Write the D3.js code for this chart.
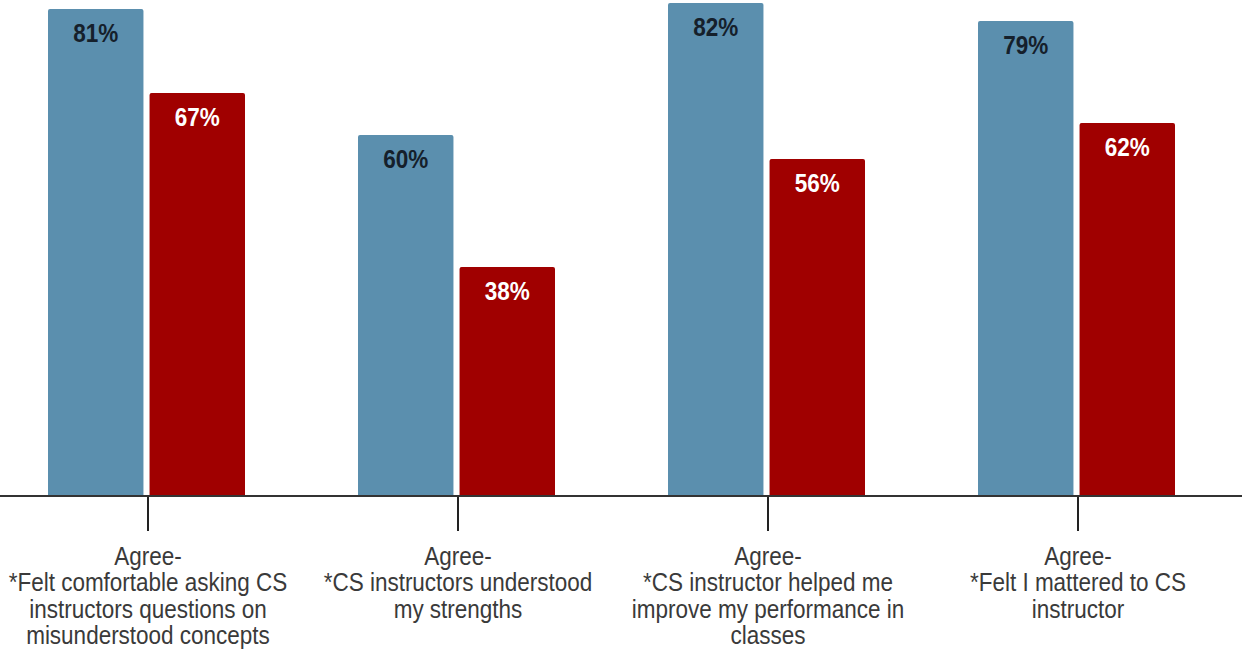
<!DOCTYPE html>
<html>
<head>
<meta charset="utf-8">
<script src="https://cdn.jsdelivr.net/npm/d3@7"></script>
<style>
  html, body { margin: 0; padding: 0; background: #fff; }
  svg { display: block; }
</style>
</head>
<body>
<svg id="chart" width="1242" height="649"></svg>
<script>
// Survey items (each label split into its display lines)
const categories = ["q1", "q2", "q3", "q4"];
const categoryLabels = [
  ["Agree-", "*Felt comfortable asking CS", "instructors questions on", "misunderstood concepts"],
  ["Agree-", "*CS instructors understood", "my strengths"],
  ["Agree-", "*CS instructor helped me", "improve my performance in", "classes"],
  ["Agree-", "*Felt I mattered to CS", "instructor"]
];
const seriesNames = ["Group A", "Group B"];
const seriesA = [81, 60, 82, 79];
const seriesB = [67, 38, 56, 62];
const seriesColors = ["#5b8fae", "#a00000"];
const labelColors = ["#15202b", "#ffffff"];

const width = 1242, height = 649;
const baseY = 495;
const fontFamily = "'Liberation Sans', Arial, sans-serif";
const narrow = 0.9; // horizontal squeeze for a narrow-face look
const svg = d3.select("#chart");

const x0 = d3.scaleBand().domain(categories).range([-7, 1233]).padding(0);
const x1 = d3.scaleBand().domain(seriesNames).range([-100, 97]).paddingInner(0.06);
const y = d3.scaleLinear().domain([0, 100]).range([baseY, -105]);

const rows = categories.map((c, i) => ({
  cat: c,
  values: [
    { s: seriesNames[0], v: seriesA[i], k: 0 },
    { s: seriesNames[1], v: seriesB[i], k: 1 }
  ]
}));

const groups = svg.selectAll("g.group").data(rows).join("g")
  .attr("class", "group")
  .attr("transform", d => `translate(${x0(d.cat) + x0.bandwidth() / 2},0)`);

groups.selectAll("rect").data(d => d.values).join("rect")
  .attr("x", d => x1(d.s))
  .attr("width", x1.bandwidth())
  .attr("y", d => y(d.v))
  .attr("height", d => baseY - y(d.v) + 2)
  .attr("rx", 2)
  .attr("fill", d => seriesColors[d.k]);

groups.selectAll("text.val").data(d => d.values).join("text")
  .attr("class", "val")
  .attr("transform", d => `translate(${x1(d.s) + x1.bandwidth() / 2},${y(d.v) + 33}) scale(${narrow},1)`)
  .attr("text-anchor", "middle")
  .attr("font-family", fontFamily)
  .attr("font-weight", "bold")
  .attr("font-size", 25)
  .attr("fill", d => labelColors[d.k])
  .text(d => d.v + "%");

// Category axis with long downward ticks
const axis = svg.append("g")
  .attr("transform", `translate(0,${baseY})`)
  .call(d3.axisBottom(x0).tickSize(36).tickSizeOuter(0).tickFormat(""));
axis.select(".domain").remove();
axis.selectAll(".tick line").attr("stroke", "#222").attr("stroke-width", 2);

svg.append("line")
  .attr("x1", 0).attr("x2", width)
  .attr("y1", baseY + 1).attr("y2", baseY + 1)
  .attr("stroke", "#333").attr("stroke-width", 2);

axis.selectAll(".tick").each(function(d, i) {
  const t = d3.select(this).append("text")
    .attr("text-anchor", "middle")
    .attr("fill", "#3a3a3a")
    .attr("font-family", fontFamily)
    .attr("font-size", 25)
    .attr("transform", `translate(0,70) scale(${narrow},1)`);
  categoryLabels[i].forEach((line, j) => {
    t.append("tspan").attr("x", 0).attr("dy", j === 0 ? 0 : 26.5).text(line);
  });
});
</script>
</body>
</html>
